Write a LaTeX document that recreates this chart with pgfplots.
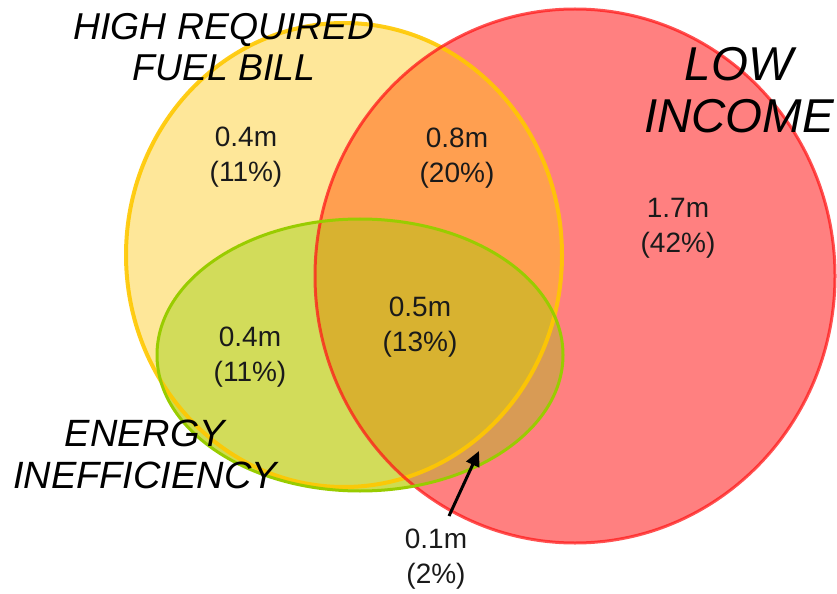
\documentclass[border=0pt]{standalone}
\usepackage{pgfplots}
\pgfplotsset{compat=1.18}
\usepackage{fontspec}
\setmainfont{Liberation Sans}
\usetikzlibrary{arrows.meta}
\definecolor{yonly}{HTML}{FEE799}
\definecolor{ronly}{HTML}{FF8080}
\definecolor{gonly}{HTML}{CEDC50}
\definecolor{yr}{HTML}{FF9F50}
\definecolor{yg}{HTML}{D2DC5A}
\definecolor{rg}{HTML}{D89B55}
\definecolor{yrg}{HTML}{D8B230}
\definecolor{ystroke}{HTML}{FFC800}
\definecolor{rstroke}{HTML}{FF1A1A}
\definecolor{gstroke}{HTML}{99CC00}
\definecolor{txt}{HTML}{1A1A1A}
\begin{document}
\begin{tikzpicture}
\begin{axis}[x=1bp, y=1bp, xmin=0, xmax=837, ymin=0, ymax=594, y dir=reverse,
  hide axis, clip=false]
\path (axis cs:0,0) rectangle (axis cs:837,594);
% shapes: centre x, centre y, x radius, y radius
\def\Y{(axis cs:344,255) ellipse [x radius=218, y radius=232]}
\def\R{(axis cs:575,276) ellipse [x radius=260, y radius=267]}
\def\G{(axis cs:360,355) ellipse [x radius=203, y radius=136]}
\fill[yonly] \Y;
\fill[ronly] \R;
\fill[gonly] \G;
\begin{scope}\clip \Y; \fill[yr] \R; \end{scope}
\begin{scope}\clip \Y; \fill[yg] \G; \end{scope}
\begin{scope}\clip \R; \fill[rg] \G; \end{scope}
\begin{scope}\clip \Y; \clip \R; \fill[yrg] \G; \end{scope}
\draw[ystroke, line width=4bp, opacity=0.9] \Y;
\draw[rstroke, line width=3bp, opacity=0.75] \R;
\draw[gstroke, line width=3bp] \G;
\draw[black, line width=3bp, -{Triangle[length=15bp, width=14bp]}] (axis cs:449,516) -- (axis cs:479,451);
\tikzset{lab/.style={align=center, inner sep=0pt, text=txt, font=\fontsize{28bp}{35bp}\selectfont}}
\node[lab] at (axis cs:246,157) {0.4m\\(11\%)};
\node[lab] at (axis cs:457,158) {0.8m\\(20\%)};
\node[lab] at (axis cs:678,228) {1.7m\\(42\%)};
\node[lab] at (axis cs:250,357) {0.4m\\(11\%)};
\node[lab] at (axis cs:420,327) {0.5m\\(13\%)};
\node[lab] at (axis cs:436,559) {0.1m\\(2\%)};
\node[align=center, inner sep=0pt, text=black, font=\fontsize{37.4bp}{41bp}\selectfont\itshape] at (axis cs:224,47) {HIGH REQUIRED\\FUEL BILL};
\node[align=center, inner sep=0pt, text=black, font=\fontsize{47.5bp}{52bp}\selectfont\itshape] at (axis cs:739,90) {LOW\\INCOME};
\node[align=center, inner sep=0pt, text=black, font=\fontsize{38bp}{42bp}\selectfont\itshape] at (axis cs:145,454) {ENERGY\\INEFFICIENCY};
\end{axis}
\end{tikzpicture}
\end{document}
